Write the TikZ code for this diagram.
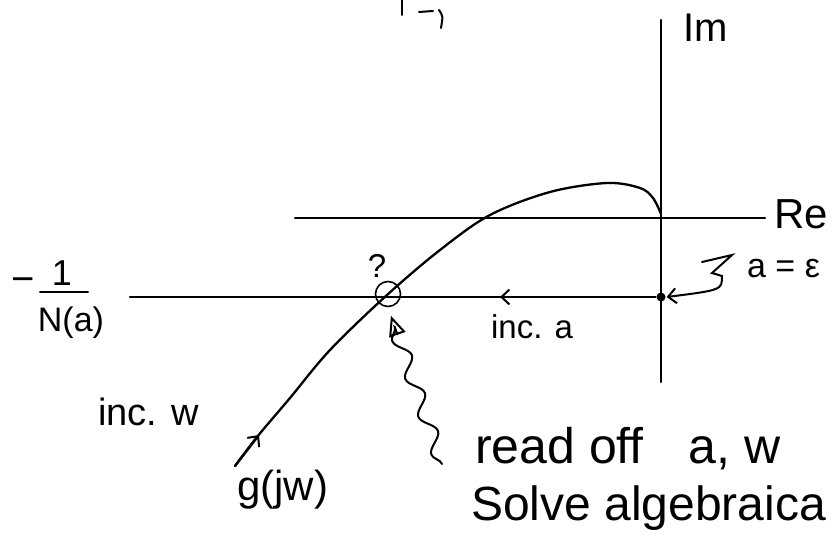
\documentclass[tikz,border=0pt]{standalone}
\usepackage{fontspec}
\setmainfont{Liberation Sans}
\usetikzlibrary{arrows.meta,decorations.pathmorphing}

\begin{document}
\begin{tikzpicture}[
    x=1pt, y=-1pt,
    line width=2.3pt, line cap=round,
    >={Straight Barb[length=8pt,width=15pt,line width=2pt]},
    lbl/.style={inner sep=0pt, anchor=base west, font=\fontsize{33}{33}\selectfont},
    big/.style={inner sep=0pt, anchor=base west, font=\fontsize{50}{50}\selectfont},
    dot/.style={circle, fill, inner sep=0pt, minimum size=9pt},
    wavy/.style={-{Triangle[open,length=20pt,width=17pt,line width=2pt]}, line width=2pt,
      decorate, decoration={snake, amplitude=7pt, segment length=40pt, post length=16pt}}
  ]
    \clip (0,0) rectangle (833,540);
    % axes
    \coordinate (imtop) at (661,20);
    \coordinate (imbot) at (661,382);
    \coordinate (releft) at (295,218);
    \coordinate (reright) at (765,218);
    \draw (imbot) -- (imtop);
    \draw (releft) -- (reright);
    \node[lbl, font=\fontsize{40}{40}\selectfont] (im) at (682,42) {Im};
    \node[lbl, font=\fontsize{42}{42}\selectfont] (re) at (773,229) {Re};
    % stroke ends cut at the top
    \draw[line width=2pt] (402,0) -- (402,15);
    \draw[line width=2pt] (419,12) -- (433,11);
    \draw[line width=2pt] (439,10) .. controls (443,16) .. (441,28);
    % describing function line
    \node[dot] (eps) at (661,297) {};
    \coordinate (nleft) at (130,297);
    \coordinate (incarr) at (500,297);
    \draw (eps) -- (nleft);
    \draw[->] (eps) -- (incarr);
    \node[lbl, anchor=base, font=\fontsize{36}{36}\selectfont] (num) at (62,286) {1};
    \node[lbl, anchor=base, font=\fontsize{34}{34}\selectfont] (den) at (71,331) {N(a)};
    \coordinate (barl) at (40,292);
    \coordinate (barr) at (88,292);
    \draw[line width=2pt] (barl) -- (barr);
    \node[lbl, anchor=base, font=\fontsize{40}{40}\selectfont] (minus) at (23,293) {−};
    \node[lbl] (inca) at (490,338) {inc. a};
    % g(jw)
    \coordinate (gstart) at (235,466);
    \coordinate (garr) at (259,435);
    \draw plot[smooth, tension=0.55] coordinates {(235,466) (257,437) (290,398) (330,350)
      (387,295) (440,250) (490,215) (550,192) (607,183) (640,188) (653,198) (661,214)};
    \draw[->] (gstart) -- (garr);
    \node[lbl, font=\fontsize{42}{42}\selectfont] (g) at (236,500) {g(jw)};
    \node[lbl, font=\fontsize{38}{38}\selectfont] (incw) at (97,425) {inc. w};
    % intersection
    \node[circle, draw, line width=1.6pt, minimum size=25pt, inner sep=0pt] (q) at (388,294) {};
    \node[lbl, anchor=base] (qm) at (377,278) {?};
    % a = epsilon
    \node[lbl, font=\fontsize{34}{34}\selectfont] (aeps) at (746,277) {a = ε};
    \coordinate (zz) at (702,262);
    \draw[->, line width=2pt] (zz) -- (732,255) -- (712,273) -- (722,276)
      .. controls (722,290) .. (eps.east) ;
    % note
    \node[big] (read) at (474,463) {read off\hspace{0.9em}a, w};
    \node[big, font=\fontsize{48}{48}\selectfont] (solve) at (470,520) {Solve algebraica};
    \coordinate (wv) at (442,464);
    \draw[wavy, shorten >=9pt] (wv) -- (q.south);
  \end{tikzpicture}
\end{document}
